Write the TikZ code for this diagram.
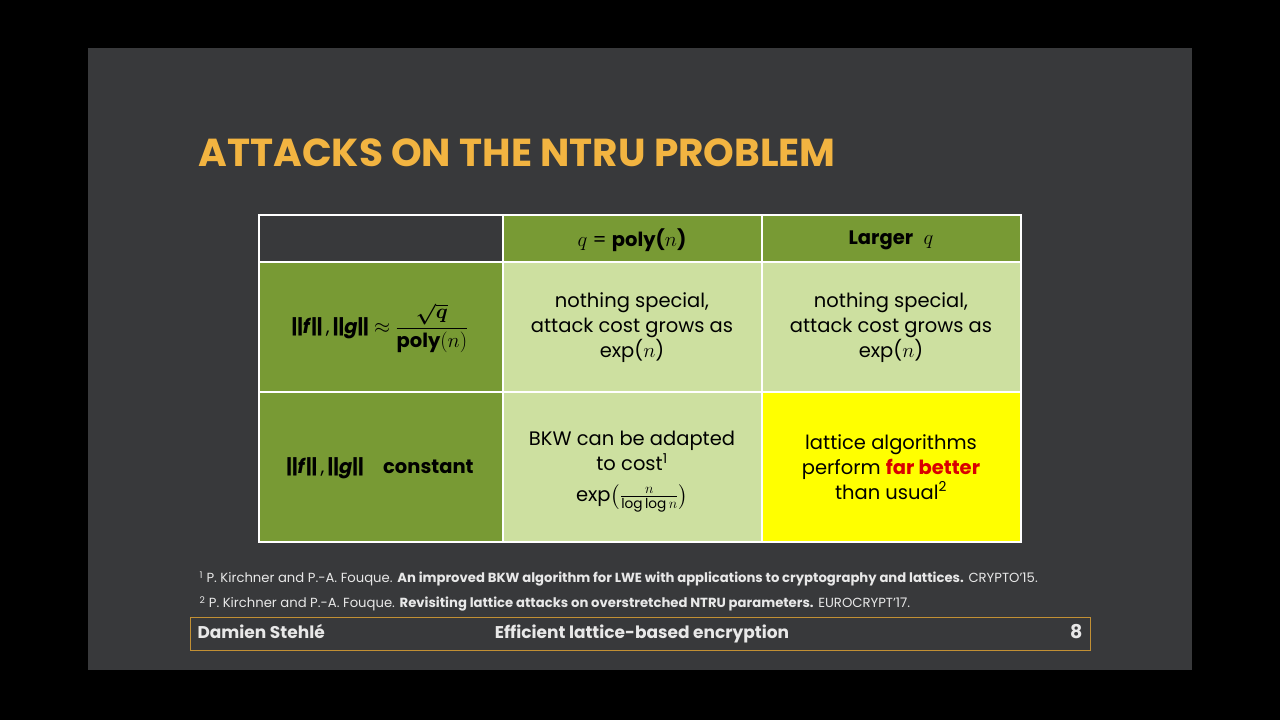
\documentclass[tikz,border=0pt]{standalone}
\usepackage{fontspec}
\setmainfont{Poppins}
\usepackage{amsmath}
\definecolor{slide}{HTML}{38393B}
\definecolor{ttl}{HTML}{F2B441}
\definecolor{dg}{HTML}{789A34}
\definecolor{lg}{HTML}{CDE0A0}
\definecolor{yl}{HTML}{FFFF00}
\definecolor{foot}{HTML}{E8E8E8}
\begin{document}
\begin{tikzpicture}[x=1pt,y=-1pt,
  cell/.style={draw=white,line width=1.5pt},
  txt/.style={align=center,font=\fontsize{19.5}{25}\selectfont,text=black},
  fn/.style={anchor=west,font=\fontsize{13.2}{14}\selectfont,text=foot},
  ft/.style={text=foot,font=\fontsize{17}{19}\selectfont\bfseries,text height=12pt,text depth=4pt}]
\useasboundingbox (0,0) rectangle (1280,720);
\fill[black] (0,0) rectangle (1280,720);
\fill[slide] (88,48) rectangle (1192,670);
\node[anchor=west,text=ttl,font=\fontsize{39}{41}\selectfont\bfseries] (title) at (195,153) {ATTACKS ON THE NTRU PROBLEM};
% table
\draw[cell] (259,215) rectangle (503,262);
\fill[dg] (503,215) rectangle (1021,262); \draw[cell] (503,215) rectangle (762,262); \draw[cell] (762,215) rectangle (1021,262);
\fill[dg] (259,262) rectangle (503,542); \draw[cell] (259,262) rectangle (503,392); \draw[cell] (259,392) rectangle (503,542);
\fill[lg] (503,262) rectangle (1021,392); \fill[lg] (503,392) rectangle (762,542); \fill[yl] (762,392) rectangle (1021,542);
\draw[cell] (503,262) rectangle (762,392); \draw[cell] (762,262) rectangle (1021,392);
\draw[cell] (503,392) rectangle (762,542); \draw[cell] (762,392) rectangle (1021,542);
\node[txt] (h1) at (632,240) {$q$ = \textbf{poly(}$n$\textbf{)}};
\node[txt] (h2) at (891,240) {\textbf{Larger}~~$q$};
\node[txt] (r1) at (380,328) {\textbf{||}\textbf{\textit{f}}\textbf{||}\,,\,\textbf{||}\textbf{\textit{g}}\textbf{||} $\approx$ $\dfrac{\boldsymbol{\sqrt{q}}}{\mathbf{poly}(n)}$};
\node[txt] (r2) at (380,468) {\textbf{||}\textbf{\textit{f}}\textbf{||}\,,\,\textbf{||}\textbf{\textit{g}}\textbf{||}\quad\textbf{constant}};
\node[txt] (c11) at (632,328) {nothing special,\\attack cost grows as\\exp($n$)};
\node[txt] (c12) at (891,328) {nothing special,\\attack cost grows as\\exp($n$)};
\node[txt] (c21) at (632,472) {BKW can be adapted\\to cost\textsuperscript{1}\\[6pt]exp$\bigl(\frac{n}{\log\log n}\bigr)$};
\node[txt] (c22) at (891,467) {lattice algorithms\\perform \textcolor{red!85!black}{\textbf{far better}}\\than usual\textsuperscript{2}};
% footnotes
\node[fn] (f1) at (196,579) {\textsuperscript{1} P. Kirchner and P.-A. Fouque. \textbf{An improved BKW algorithm for LWE with applications to cryptography and lattices.} CRYPTO'15.};
\node[fn] (f2) at (196,604) {\textsuperscript{2} P. Kirchner and P.-A. Fouque. \textbf{Revisiting lattice attacks on overstretched NTRU parameters.} EUROCRYPT'17.};
% footer
\draw[ttl!80!black,line width=1pt] (190,617) rectangle (1090,650);
\node[ft,anchor=west] (auth) at (194,634) {Damien Stehlé};
\node[ft] (talk) at (642,634) {Efficient lattice-based encryption};
\node[ft,anchor=east,font=\fontsize{19}{21}\selectfont\bfseries] (pg) at (1086,634) {8};
\end{tikzpicture}
\end{document}
